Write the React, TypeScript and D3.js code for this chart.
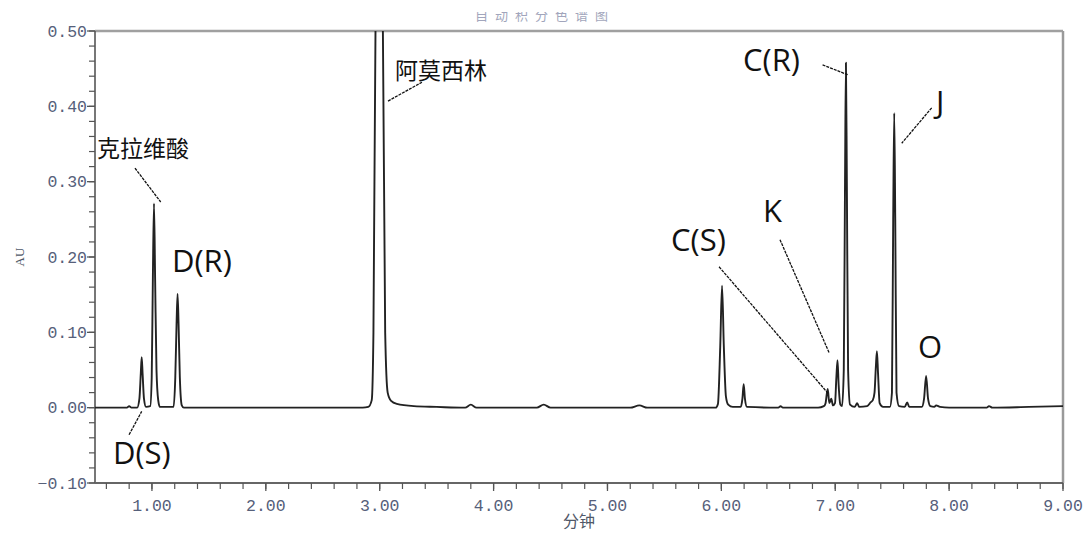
import React from 'react';
import * as d3 from 'd3';

// chromatogram trace: [minutes, AU]
const trace: [number, number][] = [
  [0.5, 0.0], [0.7, 0.0], [0.78, 0.0], [0.8, 0.002], [0.82, 0.0], [0.87, 0.0],
  [0.89, 0.012], [0.902, 0.045], [0.91, 0.067], [0.918, 0.045], [0.93, 0.012], [0.948, 0.001],
  [0.985, 0.002], [0.998, 0.04], [1.008, 0.17], [1.018, 0.271], [1.028, 0.17], [1.04, 0.05], [1.055, 0.01], [1.07, 0.001],
  [1.19, 0.001], [1.205, 0.04], [1.216, 0.11], [1.225, 0.151], [1.234, 0.11], [1.245, 0.04], [1.262, 0.003], [1.28, 0.0],
  [1.5, 0.0], [2.0, 0.0], [2.5, 0.0], [2.85, 0.0],
  [2.9, 0.001], [2.93, 0.01], [2.945, 0.1], [2.963, 0.5], [2.992, 0.64], [3.028, 0.5], [3.048, 0.1], [3.07, 0.02],
  [3.1, 0.009], [3.15, 0.005], [3.3, 0.002], [3.5, 0.001],
  [3.75, 0.0], [3.8, 0.004], [3.85, 0.0], [4.38, 0.0], [4.44, 0.004], [4.5, 0.0],
  [5.2, 0.0], [5.28, 0.003], [5.35, 0.0], [5.8, 0.0],
  [5.95, 0.0], [5.97, 0.005], [5.99, 0.08], [6.006, 0.162], [6.022, 0.08], [6.04, 0.015], [6.06, 0.004], [6.1, 0.001],
  [6.17, 0.001], [6.185, 0.012], [6.196, 0.031], [6.207, 0.012], [6.225, 0.001],
  [6.5, 0.0], [6.52, 0.002], [6.54, 0.0], [6.85, 0.0],
  [6.9, 0.002], [6.915, 0.006], [6.934, 0.025], [6.948, 0.006], [6.965, 0.012], [6.98, 0.003],
  [6.998, 0.006], [7.01, 0.04], [7.02, 0.063], [7.03, 0.03], [7.045, 0.004], [7.06, 0.002],
  [7.075, 0.05], [7.086, 0.3], [7.094, 0.458], [7.102, 0.3], [7.113, 0.05], [7.13, 0.004],
  [7.17, 0.001], [7.193, 0.006], [7.21, 0.001], [7.28, 0.002], [7.31, 0.007], [7.33, 0.01],
  [7.345, 0.02], [7.357, 0.055], [7.366, 0.075], [7.376, 0.045], [7.39, 0.006], [7.42, 0.001],
  [7.48, 0.001], [7.498, 0.02], [7.509, 0.25], [7.518, 0.391], [7.527, 0.25], [7.538, 0.02], [7.56, 0.002],
  [7.61, 0.001], [7.632, 0.007], [7.65, 0.001], [7.76, 0.001],
  [7.78, 0.012], [7.798, 0.042], [7.815, 0.012], [7.835, 0.002], [7.87, 0.001], [7.886, 0.003], [7.92, 0.001],
  [8.0, 0.0], [8.33, 0.0], [8.35, 0.002], [8.38, 0.0], [8.7, 0.001], [9.0, 0.002],
];

const xTicks = [1, 2, 3, 4, 5, 6, 7, 8, 9];
const yTicks = [-0.1, 0, 0.1, 0.2, 0.3, 0.4, 0.5];

// peak labels, anchored in data units
const labels = [
  { text: '克拉维酸', t: 0.518, v: 0.333, cjk: true },
  { text: 'D(S)', t: 0.658, v: -0.075, cjk: false },
  { text: 'D(R)', t: 1.176, v: 0.18, cjk: false },
  { text: '阿莫西林', t: 3.134, v: 0.436, cjk: true },
  { text: 'C(S)', t: 5.558, v: 0.208, cjk: false },
  { text: 'K', t: 6.366, v: 0.246, cjk: false },
  { text: 'C(R)', t: 6.19, v: 0.447, cjk: false },
  { text: 'J', t: 7.885, v: 0.391, cjk: false },
  { text: 'O', t: 7.727, v: 0.066, cjk: false },
];

const leaders: [number, number, number, number][] = [
  [0.851, 0.318, 1.077, 0.273],
  [0.799, -0.036, 0.91, -0.005],
  [3.073, 0.407, 3.371, 0.432],
  [5.98, 0.187, 6.937, 0.019],
  [6.515, 0.223, 6.946, 0.073],
  [6.889, 0.455, 7.109, 0.442],
  [7.847, 0.398, 7.584, 0.351],
];

const width = 1086;
const height = 536;
const margin = { top: 31, right: 23, bottom: 53, left: 95 };

export default function App() {
  const x = d3.scaleLinear().domain([0.5, 9.0]).range([margin.left, width - margin.right]);
  const y = d3.scaleLinear().domain([-0.1, 0.5]).range([height - margin.bottom, margin.top]);

  const line = d3.line<[number, number]>()
    .x(d => x(d[0]))
    .y(d => y(d[1]))
    .curve(d3.curveMonotoneX);

  const fmt = d3.format('.2f');
  const xMinor = d3.range(0.6, 9.001, 0.2);
  const yMinor = y.ticks(30);

  const [x0, x1] = x.range();
  const [y0, y1] = [y(-0.1), y(0.5)];
  const tickFont = { fontFamily: '"Liberation Mono", monospace', fontSize: 16.5, fill: '#56607a' };

  return (
    <svg width={width} height={height} style={{ position: 'absolute', left: 0, top: 0 }}>
      <defs>
        <clipPath id="plot">
          <rect x={x0} y={y1} width={x1 - x0} height={y0 - y1} />
        </clipPath>
        <clipPath id="title">
          <rect x={0} y={12} width={width} height={20} />
        </clipPath>
      </defs>

      <text x={545} y={20} textAnchor="middle" clipPath="url(#title)"
        style={{ fontFamily: '"Noto Sans CJK SC"', fontSize: 13, letterSpacing: 7, fill: '#7a7fa0', opacity: 0.7 }}>
        自动积分色谱图
      </text>

      {/* frame */}
      <line x1={x0} x2={x1} y1={y1} y2={y1} stroke="#a0a0a0" strokeWidth={2.5} />
      <line x1={x1} x2={x1} y1={y1} y2={y0} stroke="#9a9a9a" strokeWidth={2.5} />
      <line x1={x0} x2={x0} y1={y1} y2={y0} stroke="#555" strokeWidth={1.6} />
      <line x1={x0} x2={x1} y1={y0} y2={y0} stroke="#666" strokeWidth={1.8} />

      {/* y ticks */}
      {yMinor.map(v => (
        <line key={'ym' + v} x1={x0 - 6} x2={x0} y1={y(v)} y2={y(v)} stroke="#555" strokeWidth={1.2} />
      ))}
      {yTicks.map(v => (
        <g key={'y' + v}>
          <line x1={x0 - 8} x2={x0} y1={y(v)} y2={y(v)} stroke="#555" strokeWidth={1.3} />
          <text x={x0 - 8} y={y(v)} dy="0.35em" textAnchor="end" style={tickFont}>
            {fmt(v).replace('-', '\u2212')}
          </text>
        </g>
      ))}

      {/* x ticks */}
      {xMinor.map(t => (
        <line key={'xm' + t} x1={x(t)} x2={x(t)} y1={y0} y2={y0 + 6} stroke="#555" strokeWidth={1.2} />
      ))}
      {xTicks.map(t => (
        <g key={'x' + t}>
          <line x1={x(t)} x2={x(t)} y1={y0} y2={y0 + 8} stroke="#555" strokeWidth={1.3} />
          <text x={x(t)} y={y0 + 22} dy="0.35em" textAnchor="middle" style={tickFont}>
            {fmt(t)}
          </text>
        </g>
      ))}

      <text x={(x0 + x1) / 2} y={527} textAnchor="middle"
        style={{ fontFamily: '"Noto Sans CJK SC"', fontSize: 16, fill: '#505868' }}>分钟</text>
      <text transform={`translate(24, ${(y0 + y1) / 2}) rotate(-90)`} textAnchor="middle"
        style={{ fontFamily: '"Liberation Serif", serif', fontSize: 13, fill: '#505868' }}>AU</text>

      {/* trace */}
      <path d={line(trace) ?? ''} fill="none" stroke="#222" strokeWidth={1.9}
        strokeLinejoin="round" clipPath="url(#plot)" />

      {/* leaders */}
      {leaders.map((l, i) => (
        <line key={'l' + i} x1={x(l[0])} y1={y(l[1])} x2={x(l[2])} y2={y(l[3])}
          stroke="#111" strokeWidth={1.3} strokeDasharray="3 1" />
      ))}

      {/* labels */}
      {labels.map(d => (
        <text key={d.text} x={x(d.t)} y={y(d.v)}
          style={{
            fontFamily: d.cjk ? '"Noto Sans CJK SC"' : '"Open Sans", sans-serif',
            fontSize: d.cjk ? 23 : 31,
            fill: '#111',
          }}>
          {d.text}
        </text>
      ))}
    </svg>
  );
}
